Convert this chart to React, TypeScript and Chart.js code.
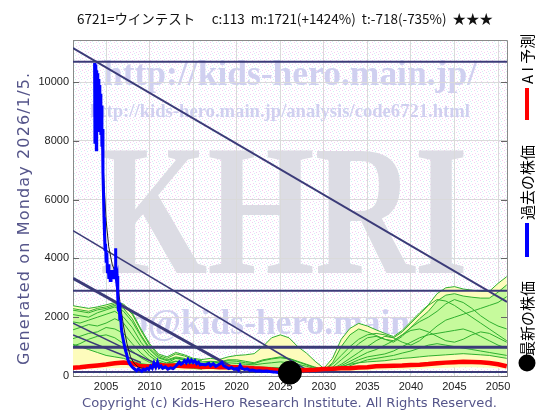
import { useEffect, useRef } from "react";
import { Chart, registerables } from "chart.js";
Chart.register(...registerables);

// ---------- axes ----------
const X_MIN = 2001.2;
const X_MAX = 2051.03;
const Y_MIN = 0;
const Y_MAX = 11430;
const xTickYears = [2005, 2010, 2015, 2020, 2025, 2030, 2035, 2040, 2045, 2050];
const yTickValues = [0, 2000, 4000, 6000, 8000, 10000];

// ---------- texts ----------
const titleText = "6721=ウインテスト　 c:113  m:1721(+1424%)  t:-718(-735%)  ★★★";
const yTitleText = "Generated on Monday 2026/1/5.";
const copyrightText = "Copyright (c) Kids-Hero Research Institute. All Rights Reserved.";
const legendLabels = ["A I 予測", "過去の株価", "最新の株価"];

// ---------- past price (blue) ----------
const priceYears = [
  2003.68, 2003.72, 2003.76, 2003.8, 2003.84, 2003.88, 2003.92, 2003.97, 2004.02, 2004.07,
  2004.12, 2004.17, 2004.22, 2004.28, 2004.34, 2004.4, 2004.46, 2004.52, 2004.58, 2004.64,
  2004.7, 2004.76, 2004.82, 2004.88, 2004.94, 2005.0, 2005.08, 2005.16, 2005.24, 2005.32,
  2005.4, 2005.48, 2005.56, 2005.64, 2005.72, 2005.8, 2005.88, 2005.96, 2006.04, 2006.08,
  2006.12, 2006.18, 2006.26, 2006.34, 2006.42, 2006.5, 2006.58, 2006.66, 2006.76, 2006.86,
  2006.96, 2007.06, 2007.2, 2007.35, 2007.5, 2007.65, 2007.8, 2007.95, 2008.1, 2008.3,
  2008.5, 2008.7, 2008.9, 2009.1, 2009.3, 2009.5, 2009.7, 2009.9, 2010.1, 2010.3,
  2010.5, 2010.7, 2010.9, 2011.1, 2011.3, 2011.5, 2011.8, 2012.1, 2012.4, 2012.7,
  2013.0, 2013.2, 2013.4, 2013.6, 2013.8, 2014.0, 2014.2, 2014.4, 2014.6, 2014.8,
  2015.0, 2015.2, 2015.4, 2015.6, 2015.8, 2016.0, 2016.4, 2016.8, 2017.0, 2017.3,
  2017.6, 2017.9, 2018.1, 2018.3, 2018.5, 2018.8, 2019.1, 2019.4, 2019.7, 2020.0,
  2020.2, 2020.4, 2020.6, 2020.9, 2021.2, 2021.5, 2021.8, 2022.2, 2022.6, 2023.0,
  2023.4, 2023.8, 2024.2, 2024.6, 2024.9,
];
const priceValues = [
  10650, 7900, 10600, 8200, 10550, 7700, 10400, 8400, 10300, 8800,
  10100, 8300, 9900, 8600, 9600, 8200, 9200, 7800, 8400, 6900,
  6200, 5400, 4800, 4300, 4500, 3900, 4200, 3500, 3800, 3300,
  3600, 3250, 3500, 3300, 3600, 3350, 3500, 3300, 3700, 4350,
  3500, 3300, 3400, 2700, 2200, 2500, 1900, 2100, 1600, 1400,
  1250, 1100, 900, 750, 560, 450, 380, 320, 280, 230,
  180, 240, 200, 160, 230, 200, 260, 220, 330, 260,
  440, 300, 470, 290, 340, 260, 310, 230, 280, 250,
  330, 400, 470, 400, 440, 520, 450, 560, 470, 540,
  460, 520, 420, 470, 380, 400, 380, 430, 350, 420,
  330, 380, 420, 460, 350, 300, 250, 290, 230, 260,
  200, 360, 260, 220, 240, 190, 200, 170, 180, 160,
  170, 150, 140, 125, 113,
];

// ---------- thin dark average line ----------
const avgYears = [2003.8, 2004.2, 2004.5, 2004.75, 2005.0, 2005.3, 2005.7, 2006.1, 2006.4, 2006.6, 2007.0, 2007.4, 2007.8, 2008.2, 2008.7, 2009.3];
const avgValues = [10400, 9700, 8300, 6600, 5300, 4400, 3800, 3500, 3000, 2480, 1700, 1100, 650, 440, 300, 250];

// ---------- AI forecast (red) ----------
const bandYears = [
  2001, 2002, 2003, 2004, 2005, 2006, 2007, 2008, 2009, 2010,
  2011, 2012, 2013, 2014, 2015, 2016, 2017, 2018, 2019, 2020,
  2021, 2022, 2023, 2024, 2025, 2026, 2027, 2028, 2029, 2030,
  2031, 2032, 2033, 2034, 2035, 2036, 2037, 2038, 2039, 2040,
  2041, 2042, 2043, 2044, 2045, 2046, 2047, 2048, 2049, 2050, 2051,
];
const aiValues = [
  280, 300, 330, 360, 390, 430, 460, 430, 330, 320,
  370, 350, 360, 330, 340, 310, 320, 300, 310, 300,
  280, 260, 250, 220, 190, 175, 185, 205, 215, 235,
  250, 265, 262, 290, 300, 330, 340, 350, 355, 375,
  385, 405, 432, 455, 470, 486, 480, 465, 440, 400, 330,
];

// ---------- scenario band (yellow outer, green inner) ----------
const yellowTop = [
  2400, 2350, 2300, 2350, 2420, 2500, 2450, 2150, 1600, 1100,
  750, 650, 800, 720, 600, 560, 600, 560, 650, 700,
  720, 760, 1000, 1300, 1400, 1300, 1000, 780, 500, 260,
  600, 1250, 1620, 1790, 1700, 1570, 1450, 1340, 1550, 1850,
  2150, 2420, 2800, 3000, 3040, 2960, 2920, 2880, 2880, 3150, 3380,
];
const yellowBottom = [
  220, 230, 240, 250, 260, 270, 280, 260, 220, 200,
  200, 200, 210, 200, 200, 190, 190, 180, 180, 170,
  170, 160, 160, 150, 150, 140, 140, 140, 140, 140,
  150, 160, 170, 180, 190, 200, 210, 220, 230, 240,
  250, 260, 270, 280, 290, 300, 300, 290, 280, 260, 240,
];
const greenTop = [
  2250, 2200, 2150, 2250, 2300, 2400, 2300, 1950, 1400, 950,
  650, 550, 650, 600, 500, 480, 500, 480, 550, 550,
  500, 450, 550, 600, 650, 600, 500, 400, 300, 200,
  450, 1000, 1400, 1600, 1500, 1380, 1250, 1150, 1350, 1650,
  1950, 2200, 2550, 2750, 2800, 2720, 2680, 2650, 2650, 2850, 3100,
];
const greenBottom = [
  1100, 1000, 900, 800, 700, 650, 600, 500, 420, 380,
  350, 330, 350, 340, 330, 320, 330, 320, 330, 330,
  320, 300, 300, 290, 280, 260, 250, 240, 220, 180,
  250, 320, 400, 450, 480, 500, 520, 560, 600, 620,
  650, 680, 700, 720, 740, 760, 740, 720, 700, 650, 600,
];

// individual scenario paths
const pastYears = [2001, 2002, 2003, 2004, 2005, 2006, 2007, 2008, 2009, 2010, 2011, 2012, 2013, 2014, 2015, 2016];
const pastPaths = [
  [2300, 2250, 2200, 2300, 2350, 2450, 2400, 2100, 1550, 1050, 700, 600, 750, 680, 560, 520],
  [2100, 2050, 2000, 2150, 2250, 2350, 2200, 1850, 1350, 900, 620, 520, 620, 560, 480, 430],
  [1850, 1800, 1900, 2000, 2100, 2200, 2000, 1650, 1150, 780, 540, 440, 500, 450, 400, 360],
  [1550, 1650, 1750, 1700, 1800, 1950, 1800, 1400, 1000, 680, 480, 390, 420, 380, 340, 300],
  [1250, 1350, 1450, 1500, 1650, 1600, 1450, 1100, 780, 540, 410, 340, 370, 330, 300, 260],
  [1000, 1100, 1250, 1350, 1400, 1300, 1100, 850, 620, 460, 370, 310, 320, 290, 260, 230],
];
const midYears = [2012, 2013, 2014, 2015, 2016, 2017, 2018, 2019, 2020, 2021, 2022, 2023, 2024, 2025, 2026, 2027, 2028, 2029, 2030];
const midPaths = [
  [450, 600, 550, 450, 420, 480, 450, 520, 500, 450, 420, 520, 580, 620, 580, 480, 380, 280, 190],
  [400, 500, 480, 400, 380, 420, 400, 450, 430, 400, 380, 420, 450, 480, 450, 400, 330, 250, 170],
];
const futureYears = [2029, 2030, 2031, 2032, 2033, 2034, 2035, 2036, 2037, 2038, 2039, 2040, 2041, 2042, 2043, 2044, 2045, 2046, 2047, 2048, 2049, 2050, 2051];
const futurePaths = [
  [300, 200, 400, 700, 1000, 1250, 1400, 1450, 1400, 1300, 1500, 1800, 2100, 2400, 2600, 2550, 2400, 2200, 2000, 1800, 1600, 1400, 1200],
  [250, 180, 300, 550, 800, 1100, 1300, 1350, 1250, 1200, 1400, 1650, 1850, 2000, 2200, 2450, 2600, 2500, 2300, 2050, 1850, 1700, 1600],
  [220, 170, 250, 400, 600, 800, 1000, 1200, 1350, 1300, 1150, 1050, 1200, 1450, 1700, 1900, 2000, 2100, 2200, 2300, 2400, 2500, 2700],
  [200, 160, 220, 350, 500, 650, 800, 900, 1050, 1200, 1400, 1550, 1600, 1500, 1350, 1200, 1150, 1250, 1400, 1500, 1450, 1300, 1150],
  [180, 150, 200, 300, 420, 550, 650, 700, 750, 850, 1000, 1150, 1300, 1400, 1450, 1500, 1550, 1600, 1500, 1350, 1200, 1050, 950],
  [170, 140, 180, 250, 350, 450, 550, 600, 650, 700, 780, 850, 950, 1050, 1100, 1050, 1000, 950, 900, 850, 800, 750, 700],
];

// ---------- support / resistance lines ----------
const levelValues = [10690, 2900, 976, 140];
const levelWidths = [2, 2, 3, 2];
const trendStartYears = [2001.2, 2001.2, 2001.2, 2001.2, 2001.2];
const trendStartValues = [11156, 4942, 3323, 1800, 1395];
const trendEndYears = [2051.03, 2028.05, 2020.6, 2011.0, 2009.0];
const trendEndValues = [2517, 204, 110, 380, 460];
const trendWidths = [2, 1.5, 3, 1.5, 1.5];

// ---------- latest price ----------
const latestYear = 2026.1;
const latestValue = 113;

// ---------- styles ----------
const NAVY = "#3b3b78";
const GREEN_LINE = "#2fb02f";
const GREEN_FILL = "#c6fa9c";
const YELLOW_FILL = "#fdfcbc";
const WM_COLOR = "#d0d0f0";
const KHRI_COLOR = "#dcdce4";
const SLATE = "#55558a";

function pts(xs: number[], ys: number[]) {
  return xs.map((x, i) => ({ x, y: ys[i] }));
}

function makePattern(): CanvasPattern | string {
  const c = document.createElement("canvas");
  c.width = 6;
  c.height = 6;
  const g = c.getContext("2d");
  if (!g) return "#faf6fb";
  g.fillStyle = "#ffffff";
  g.fillRect(0, 0, 6, 6);
  const dots: [number, number, string][] = [
    [0, 0, "#f4cdf2"],
    [3, 1, "#cdf2f4"],
    [1, 3, "#ecd6f4"],
    [4, 4, "#f4cdf2"],
    [2, 5, "#d6eef6"],
  ];
  dots.forEach(([x, y, col]) => {
    g.fillStyle = col;
    g.fillRect(x, y, 1, 1);
  });
  const p = g.createPattern(c, "repeat");
  return p || "#faf6fb";
}

function drawScaledText(ctx: CanvasRenderingContext2D, text: string, x: number, y: number, width: number, font: string, color: string) {
  ctx.save();
  ctx.font = font;
  const w = ctx.measureText(text).width;
  ctx.translate(x, y);
  ctx.scale(width / w, 1);
  ctx.fillStyle = color;
  ctx.textAlign = "left";
  ctx.textBaseline = "alphabetic";
  ctx.fillText(text, 0, 0);
  ctx.restore();
}

function fitFont(ctx: CanvasRenderingContext2D, text: string, weight: string, family: string, width: number) {
  ctx.font = `${weight} 100px ${family}`;
  const w = ctx.measureText(text).width;
  const size = (100 * width) / w;
  return `${weight} ${size.toFixed(2)}px ${family}`;
}

export default function App() {
  const ref = useRef<HTMLCanvasElement>(null);

  useEffect(() => {
    const canvas = ref.current;
    if (!canvas) return;
    const pattern = makePattern();

    const khriPlugin = {
      id: "khri",
      beforeDraw(chart: any) {
        const { ctx, chartArea: ca } = chart;
        ctx.save();
        ctx.fillStyle = "#ffffff";
        ctx.fillRect(0, 0, chart.width, chart.height);
        ctx.fillStyle = pattern;
        ctx.fillRect(ca.left, ca.top, ca.right - ca.left, ca.bottom - ca.top);
        ctx.beginPath();
        ctx.rect(ca.left, ca.top, ca.right - ca.left, ca.bottom - ca.top);
        ctx.clip();
        drawScaledText(ctx, "KHRI", 100, 273, 368, 'bold 186px "Liberation Serif"', KHRI_COLOR);
        drawScaledText(ctx, "http://kids-hero.main.jp/", 103, 85, 374, 'bold 35px "Liberation Serif"', WM_COLOR);
        drawScaledText(ctx, "http://kids-hero.main.jp/analysis/code6721.html", 90, 117, 380, 'bold 18px "Liberation Serif"', WM_COLOR);
        ctx.font = 'bold 35px "Liberation Serif"';
        const s = 374 / ctx.measureText("http://kids-hero.main.jp/").width;
        const infoText = "info@kids-hero.main.jp";
        const pre = ctx.measureText("info@").width * s;
        const infoW = ctx.measureText(infoText).width * s;
        drawScaledText(ctx, infoText, 181 - pre, 334, infoW, 'bold 35px "Liberation Serif"', WM_COLOR);
        ctx.restore();
      },
      afterDraw(chart: any) {
        const { ctx, chartArea: ca } = chart;
        const ys = chart.scales.y;
        ctx.save();
        ctx.strokeStyle = "#8a8a8a";
        ctx.lineWidth = 1;
        ctx.beginPath();
        ctx.moveTo(ca.left, ca.top + 0.5);
        ctx.lineTo(ca.right + 0.5, ca.top + 0.5);
        ctx.lineTo(ca.right + 0.5, ca.bottom);
        ctx.stroke();
        ctx.strokeStyle = "#666";
        yTickValues.forEach((v) => {
          const py = Math.round(ys.getPixelForValue(v)) + 0.5;
          ctx.beginPath();
          ctx.moveTo(ca.left, py);
          ctx.lineTo(ca.left + 6, py);
          ctx.moveTo(ca.right - 6, py);
          ctx.lineTo(ca.right, py);
          ctx.stroke();
        });

        // title
        ctx.fillStyle = "#111";
        ctx.textBaseline = "middle";
        ctx.textAlign = "left";
        ctx.font = fitFont(ctx, titleText, "normal", '"Noto Sans CJK JP"', 416);
        ctx.fillText(titleText, 77, 19);

        // copyright
        ctx.fillStyle = SLATE;
        ctx.font = fitFont(ctx, copyrightText, "normal", '"DejaVu Sans"', 415);
        ctx.fillText(copyrightText, 82, 404);

        // y title (rotated)
        ctx.save();
        ctx.translate(25, 365);
        ctx.rotate(-Math.PI / 2);
        ctx.font = '16px "DejaVu Sans"';
        const natural = ctx.measureText(yTitleText).width;
        const spacing = Math.max(0, (292 - natural) / (yTitleText.length - 1));
        (ctx as any).letterSpacing = `${spacing.toFixed(2)}px`;
        ctx.fillStyle = SLATE;
        ctx.textAlign = "left";
        ctx.textBaseline = "middle";
        ctx.fillText(yTitleText, 0, 0);
        ctx.restore();

        // legend (rotated, read bottom-to-top)
        const lx = 527;
        ctx.fillStyle = "#000";
        ctx.beginPath();
        ctx.arc(lx, 363, 8.5, 0, Math.PI * 2);
        ctx.fill();
        ctx.fillStyle = "#0000ff";
        ctx.fillRect(lx - 2, 223, 4, 34);
        ctx.fillStyle = "#ff0000";
        ctx.fillRect(lx - 2, 88, 4, 32);
        const legendItems: [string, number][] = [
          [legendLabels[2], 356],
          [legendLabels[1], 220],
          [legendLabels[0], 84],
        ];
        legendItems.forEach(([txt, by]) => {
          ctx.save();
          ctx.translate(lx, by);
          ctx.rotate(-Math.PI / 2);
          ctx.font = '15px "Noto Sans CJK JP"';
          ctx.fillStyle = "#000";
          ctx.textAlign = "left";
          ctx.textBaseline = "middle";
          ctx.fillText(txt, 0, 0);
          ctx.restore();
        });
        ctx.restore();
      },
    };

    const lineDs = (data: { x: number; y: number }[], color: string, width: number, order: number, extra: any = {}) => ({
      data,
      borderColor: color,
      backgroundColor: color,
      borderWidth: width,
      pointRadius: 0,
      pointHoverRadius: 0,
      fill: false,
      tension: 0,
      order,
      ...extra,
    });

    const datasets: any[] = [];
    datasets.push({
      type: "scatter",
      data: [{ x: latestYear, y: latestValue }],
      backgroundColor: "#000",
      borderColor: "#000",
      pointRadius: 11.5,
      pointHoverRadius: 11.5,
      showLine: false,
      clip: false,
      order: 0,
    });
    datasets.push(lineDs(pts(priceYears, priceValues), "#0000ff", 3, 1));
    datasets.push(lineDs(pts(avgYears, avgValues), "#222222", 1, 2));
    datasets.push(lineDs(pts(bandYears, aiValues), "#ff0000", 4.5, 3));
    levelValues.forEach((v, i) => {
      datasets.push(lineDs([{ x: X_MIN, y: v }, { x: X_MAX, y: v }], NAVY, levelWidths[i], 4));
    });
    trendStartYears.forEach((x1, i) => {
      datasets.push(
        lineDs(
          [
            { x: x1, y: trendStartValues[i] },
            { x: trendEndYears[i], y: trendEndValues[i] },
          ],
          NAVY,
          trendWidths[i],
          4
        )
      );
    });
    pastPaths.forEach((p) => datasets.push(lineDs(pts(pastYears, p), GREEN_LINE, 1, 5)));
    midPaths.forEach((p) => datasets.push(lineDs(pts(midYears, p), GREEN_LINE, 1, 5)));
    futurePaths.forEach((p) => datasets.push(lineDs(pts(futureYears, p), GREEN_LINE, 1, 5)));
    datasets.push(lineDs(pts(bandYears, greenTop), GREEN_LINE, 1, 6, { fill: "+1", backgroundColor: GREEN_FILL }));
    datasets.push(lineDs(pts(bandYears, greenBottom), GREEN_LINE, 1, 5));
    datasets.push(lineDs(pts(bandYears, yellowTop), GREEN_LINE, 1, 7, { fill: "+1", backgroundColor: YELLOW_FILL }));
    datasets.push(lineDs(pts(bandYears, yellowBottom), "rgba(0,0,0,0)", 0, 7));

    const chart = new Chart(canvas, {
      type: "line",
      data: { datasets },
      options: {
        responsive: false,
        animation: false,
        events: [],
        layout: { padding: { top: 40, right: 53, left: 0, bottom: 0 } },
        plugins: {
          legend: { display: false },
          title: { display: false },
          tooltip: { enabled: false },
        },
        scales: {
          x: {
            type: "linear",
            min: X_MIN,
            max: X_MAX,
            afterBuildTicks: (s: any) => {
              s.ticks = xTickYears.map((v) => ({ value: v }));
            },
            afterFit: (s: any) => {
              s.height = 44;
            },
            ticks: {
              callback: (v: any) => String(v),
              color: "#222",
              font: { family: '"Liberation Sans"', size: 11 },
              maxRotation: 0,
              autoSkip: false,
              padding: 4,
            },
            grid: { color: "#dadada", drawTicks: false },
            border: { color: "#8a8a8a" },
          },
          y: {
            type: "linear",
            min: Y_MIN,
            max: Y_MAX,
            afterBuildTicks: (s: any) => {
              s.ticks = yTickValues.map((v) => ({ value: v }));
            },
            afterFit: (s: any) => {
              s.width = 73;
            },
            ticks: {
              callback: (v: any) => String(v),
              color: "#222",
              font: { family: '"Liberation Sans"', size: 11 },
              padding: 4,
            },
            grid: { color: "#dadada", drawTicks: false },
            border: { color: "#8a8a8a" },
          },
        },
      } as any,
      plugins: [khriPlugin],
    } as any);

    return () => chart.destroy();
  }, []);

  return (
    <div style={{ position: "absolute", left: 0, top: 0, width: 560, height: 420, background: "#fff" }}>
      <canvas ref={ref} width={560} height={420} style={{ display: "block", width: 560, height: 420 }} />
    </div>
  );
}
